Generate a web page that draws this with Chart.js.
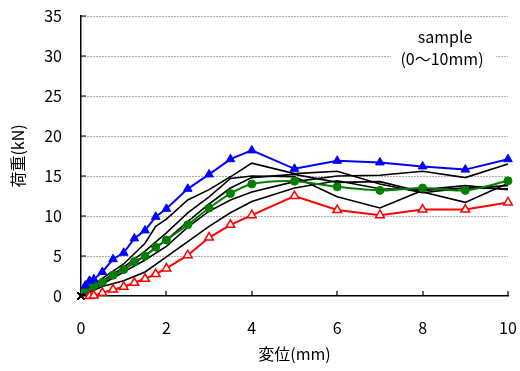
<!DOCTYPE html>
<html>
<head>
<meta charset="utf-8">
<script src="https://cdn.jsdelivr.net/npm/chart.js"></script>
<style>
  html, body { margin: 0; padding: 0; background: #fff; }
  #wrap { position: relative; width: 520px; height: 371px; }
</style>
</head>
<body>
<div id="wrap"><canvas id="loadChart"></canvas></div>
<script>
// 変位 (mm)
const disp = [0, 0.1, 0.2, 0.3, 0.5, 0.75, 1, 1.25, 1.5, 1.75, 2, 2.5, 3, 3.5, 4, 5, 6, 7, 8, 9, 10];

// 荷重 (kN)  null = 測定なし
const blueLoad  = [null, 1.3, 1.9, 2.1, 3.0, 4.6, 5.4, 7.2, 8.2, 9.9, 10.9, 13.4, 15.2, 17.1, 18.2, 15.9, 16.9, 16.7, 16.2, 15.8, 17.1];
const redLoad   = [null, null, 0.0, 0.05, 0.4, 0.8, 1.15, 1.65, 2.15, 2.75, 3.45, 5.1, 7.3, 8.9, 10.1, 12.5, 10.75, 10.1, 10.8, 10.8, 11.7];
const greenLoad = [null, 0.8, 1.1, 1.3, 1.7, 2.6, 3.3, 4.3, 5.0, 6.1, 7.0, 8.9, 11.0, 12.8, 14.0, 14.35, 13.65, 13.2, 13.5, 13.2, 14.4];
const black1 = [0, null, null, null, 2.2, null, 4.0, null, 6.6, 8.7, 9.6, 12.0, 13.3, 14.9, 16.6, 15.3, 15.6, 14.0, 12.9, 13.5, 13.8];
const black2 = [0, null, null, null, 1.9, null, 3.6, null, 5.6, null, 7.9, 10.4, 12.4, 14.7, 15.0, 14.9, 12.4, 11.0, 13.2, 13.5, 13.4];
const black3 = [0, null, null, null, 1.7, null, 3.3, null, 5.0, null, 7.0, 9.3, 11.5, 13.5, 14.8, 15.2, 14.2, 14.3, 13.0, 11.7, 14.1];
const black4 = [0, null, null, null, 1.5, null, 3.0, null, 4.5, null, 6.2, 8.6, 10.6, 12.0, 13.0, 14.3, 15.0, 15.1, 15.6, 14.8, 16.5];
const black5 = [0, null, null, null, 1.2, null, 1.9, null, 3.0, null, 4.9, 6.8, 8.7, 10.4, 11.8, 13.5, 14.4, 13.4, 13.3, 13.8, 13.3];

const xTicks = [0, 2, 4, 6, 8, 10];
const yTicks = [0, 5, 10, 15, 20, 25, 30, 35];

const FONT = '"Noto Sans CJK JP", "Noto Sans", sans-serif';

function pts(vals) {
  const out = [];
  vals.forEach((v, i) => { if (v !== null) out.push({x: disp[i], y: v}); });
  return out;
}

function blackSet(vals) {
  return {
    data: pts(vals),
    borderColor: '#000',
    borderWidth: 1.6,
    pointStyle: 'crossRot',
    pointRadius: ctx => ctx.dataIndex === 0 ? 5 : 0,
    pointBorderColor: '#000',
    pointBorderWidth: 1.5,
    tension: 0,
    clip: false
  };
}

// 目盛（内向き）と凡例ボックス
const extras = {
  id: 'extras',
  beforeDatasetsDraw(chart) {
    const {ctx} = chart;
    ctx.save();
    ctx.fillStyle = '#fff';
    ctx.fillRect(391, 24, 105, 46);
    ctx.fillStyle = '#000';
    ctx.font = '16px ' + FONT;
    ctx.textAlign = 'center';
    ctx.textBaseline = 'middle';
    ctx.fillText('sample', 445, 37);
    ctx.fillText('(0〜10mm)', 442, 59);
    ctx.restore();
  },
  afterDraw(chart) {
    const {ctx, chartArea, scales: {x, y}} = chart;
    ctx.save();
    ctx.strokeStyle = '#000';
    ctx.lineWidth = 1.2;
    ctx.beginPath();
    xTicks.forEach(v => {
      if (v === 0) return;
      const px = Math.round(x.getPixelForValue(v));
      ctx.moveTo(px, chartArea.bottom);
      ctx.lineTo(px, chartArea.bottom - 5);
    });
    yTicks.forEach(v => {
      if (v === 0) return;
      const py = Math.round(y.getPixelForValue(v));
      ctx.moveTo(chartArea.left, py);
      ctx.lineTo(chartArea.left + 5, py);
    });
    ctx.stroke();
    ctx.restore();
  }
};

new Chart(document.getElementById('loadChart'), {
  type: 'line',
  data: {
    datasets: [
      {
        data: pts(blueLoad),
        borderColor: '#0000ff',
        backgroundColor: '#0000ff',
        borderWidth: 2,
        pointStyle: 'triangle',
        pointRadius: 5,
        pointBorderWidth: 1,
        tension: 0,
        clip: false
      },
      {
        data: pts(redLoad),
        borderColor: '#ff0000',
        backgroundColor: '#ffffff',
        borderWidth: 2,
        pointStyle: 'triangle',
        pointRadius: 5,
        pointBorderWidth: 1.5,
        tension: 0,
        clip: false
      },
      {
        data: pts(greenLoad),
        borderColor: '#008000',
        backgroundColor: '#008000',
        borderWidth: 2,
        pointStyle: 'circle',
        pointRadius: 4,
        pointBorderWidth: 1,
        tension: 0.3,
        clip: false
      },
      blackSet(black1),
      blackSet(black2),
      blackSet(black3),
      blackSet(black4),
      blackSet(black5)
    ]
  },
  options: {
    responsive: true,
    maintainAspectRatio: false,
    animation: false,
    layout: { padding: { top: 16, right: 12, left: 0, bottom: 0 } },
    plugins: {
      legend: { display: false },
      tooltip: { enabled: false }
    },
    scales: {
      x: {
        type: 'linear',
        min: 0,
        max: 10,
        afterFit: s => { s.height = 75; s.paddingLeft = 0; s.paddingRight = 0; },
        afterBuildTicks: s => { s.ticks = xTicks.map(v => ({value: v})); },
        grid: { display: false, drawTicks: false },
        border: { color: '#000', width: 1.5 },
        ticks: { color: '#000', padding: 22, font: { family: FONT, size: 16 } },
        title: {
          display: true,
          text: '変位(mm)',
          color: '#000',
          padding: { top: 0, bottom: 7 },
          font: { family: FONT, size: 16 }
        }
      },
      y: {
        min: 0,
        max: 35,
        afterFit: s => { s.width = 81; s.paddingTop = 0; s.paddingBottom = 0; },
        afterBuildTicks: s => { s.ticks = yTicks.map(v => ({value: v})); },
        grid: {
          drawTicks: false,
          color: c => c.tick && c.tick.value === 0 ? 'rgba(0,0,0,0)' : '#5a5a5a',
          lineWidth: 1
        },
        border: { color: '#000', width: 1.5, dash: [1, 2] },
        ticks: { color: '#000', padding: 19, font: { family: FONT, size: 16 } },
        title: {
          display: true,
          text: '荷重(kN)',
          color: '#000',
          padding: { top: 8, bottom: 0 },
          font: { family: FONT, size: 16 }
        }
      }
    }
  },
  plugins: [extras]
});
</script>
</body>
</html>
